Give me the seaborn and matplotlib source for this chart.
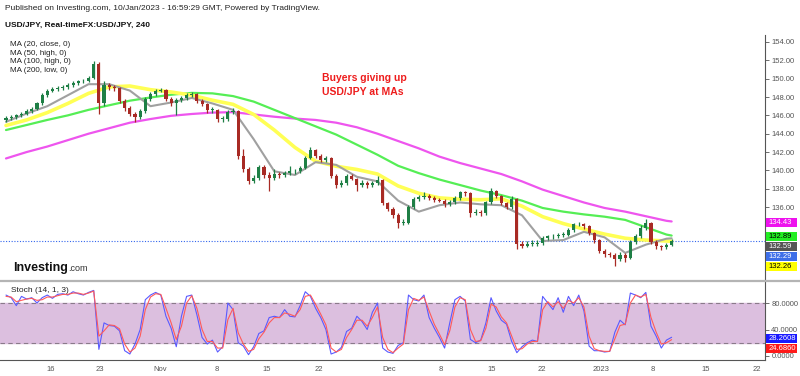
import numpy as np
import pandas as pd
import seaborn as sns
import matplotlib
matplotlib.use("Agg")
import matplotlib.pyplot as plt
from matplotlib.patches import Rectangle
from matplotlib.lines import Line2D

# ---------------- data (12h bars, USD/JPY) ----------------
first_open = 145.5
closes = [145.7, 145.8, 146.0, 146.1, 146.5, 146.7, 147.3, 148.2, 148.7, 148.9,
          149.0, 149.1, 149.3, 149.5, 149.7, 149.8, 150.1, 151.6, 147.3, 149.3,
          149.1, 149.0, 147.6, 146.8, 146.2, 145.8, 146.5, 147.8, 148.3, 148.7,
          148.8, 147.8, 147.3, 147.7, 147.9, 148.2, 148.3, 147.6, 147.2, 146.6,
          146.6, 145.6, 145.6, 146.4, 146.5, 141.6, 140.2, 138.8, 139.2, 140.4,
          139.5, 139.2, 139.6, 139.5, 139.7, 139.9, 139.9, 140.3, 141.4, 142.2,
          141.6, 141.1, 141.4, 139.4, 138.4, 138.6, 139.4, 139.1, 138.4, 138.6,
          138.4, 138.6, 139.0, 136.4, 135.8, 135.1, 134.3, 134.3, 136.0, 136.9,
          137.1, 137.2, 137.0, 136.8, 136.7, 136.3, 136.5, 137.0, 137.6, 137.5,
          135.3, 135.5, 135.3, 136.5, 137.8, 137.2, 136.4, 136.0, 136.9, 132.0,
          131.8, 132.0, 132.0, 132.1, 132.6, 132.8, 132.8, 133.0, 133.0, 133.5,
          134.1, 134.2, 133.9, 133.2, 132.4, 131.2, 130.9, 130.8, 130.3, 130.8,
          130.4, 132.2, 132.8, 133.7, 134.3, 132.2, 131.7, 131.6, 131.9, 132.29]
highs = [145.9, 146.0, 146.2, 146.4, 146.7, 146.9, 147.5, 148.4, 148.9, 149.1,
         149.2, 149.3, 149.5, 149.7, 149.9, 150.0, 150.3, 151.9, 151.8, 149.7,
         149.5, 149.3, 149.1, 147.8, 147.0, 146.4, 146.7, 148.0, 148.6, 148.9,
         149.0, 148.9, 148.0, 147.9, 148.1, 148.4, 148.5, 148.4, 147.8, 147.3,
         146.9, 146.7, 145.9, 146.6, 146.8, 146.6, 142.3, 140.4, 139.5, 140.6,
         140.6, 139.8, 140.1, 139.8, 139.9, 140.5, 140.1, 140.5, 141.6, 142.5,
         142.3, 141.8, 141.6, 141.5, 139.6, 138.9, 139.6, 139.6, 139.2, 138.9,
         138.8, 138.8, 139.4, 139.1, 136.6, 136.0, 135.3, 134.7, 136.2, 137.1,
         137.3, 137.6, 137.4, 137.2, 137.0, 136.9, 136.8, 137.2, 137.8, 137.8,
         137.6, 135.8, 135.7, 136.7, 138.1, 137.9, 137.3, 136.6, 137.2, 137.0,
         132.3, 132.3, 132.4, 132.4, 132.8, 133.0, 133.1, 133.2, 133.3, 133.7,
         134.3, 134.4, 134.3, 134.0, 133.3, 132.5, 131.4, 131.1, 131.0, 131.1,
         131.0, 132.4, 133.1, 134.0, 134.7, 134.4, 132.4, 131.9, 132.1, 132.5]
lows = [145.3, 145.5, 145.6, 145.8, 146.0, 146.3, 146.6, 147.1, 148.0, 148.5,
        148.7, 148.8, 148.9, 149.1, 149.3, 149.5, 149.6, 150.0, 146.2, 147.0,
        148.8, 148.7, 147.4, 146.5, 145.9, 145.3, 145.6, 146.3, 147.6, 148.1,
        148.5, 147.6, 147.0, 146.0, 147.5, 147.7, 148.0, 147.4, 147.0, 146.3,
        146.3, 145.3, 145.3, 145.4, 146.2, 141.2, 139.8, 138.5, 138.6, 139.0,
        139.2, 137.7, 139.0, 139.2, 139.3, 139.5, 139.6, 139.7, 140.1, 141.2,
        141.4, 140.9, 140.9, 139.2, 138.1, 138.2, 138.4, 138.9, 137.8, 138.2,
        138.1, 138.2, 138.4, 136.2, 135.6, 134.8, 133.7, 134.0, 134.1, 135.8,
        136.7, 136.9, 136.8, 136.6, 136.5, 136.0, 136.1, 136.3, 136.8, 137.2,
        134.9, 135.1, 135.0, 135.1, 136.3, 137.0, 136.2, 135.8, 135.8, 131.4,
        131.5, 131.6, 131.7, 131.8, 131.9, 132.4, 132.5, 132.6, 132.7, 132.8,
        133.3, 133.9, 133.6, 133.0, 132.1, 131.0, 130.6, 130.5, 129.6, 130.1,
        130.0, 130.3, 132.0, 132.6, 133.5, 132.0, 131.4, 131.3, 131.4, 131.8]

ma_bars = list(range(0, 129, 4)) + [129]
ma20 = [145.3, 146.2, 147.0, 148.2, 149.4, 149.4, 148.7, 147.0, 147.4, 147.9,
        147.3, 146.6, 143.4, 139.9, 139.5, 140.9, 140.6, 139.3, 138.8, 136.7,
        135.5, 136.2, 136.5, 136.3, 136.2, 135.1, 132.3, 132.4, 133.3, 132.7,
        131.0, 131.9, 132.55, 132.59]
ma50 = [144.9, 145.5, 146.3, 147.3, 148.4, 149.1, 149.2, 148.8, 148.55, 148.2,
        147.65, 147.2, 146.1, 144.4, 142.5, 141.0, 140.45, 140.1, 139.6, 138.3,
        137.5, 137.0, 136.85, 136.8, 136.9, 136.1, 134.95, 134.2, 133.6, 133.05,
        132.6, 132.4, 132.3, 132.26]
ma100 = [144.4, 144.95, 145.5, 146.0, 146.6, 147.1, 147.6, 147.95, 148.25, 148.45,
         148.4, 148.1, 147.5, 146.6, 145.7, 144.8, 143.9, 142.8, 141.7, 140.5,
         139.7, 139.0, 138.4, 137.8, 137.3, 136.7, 135.9, 135.5, 135.2, 134.95,
         134.6, 133.8, 133.0, 132.89]
ma200 = [141.3, 142.0, 142.6, 143.3, 144.0, 144.6, 145.2, 145.6, 145.95, 146.15,
         146.3, 146.35, 146.1, 145.85, 145.65, 145.5, 145.2, 144.7, 144.0, 143.2,
         142.4, 141.5, 140.8, 140.2, 139.6, 138.8, 137.9, 137.2, 136.5, 135.9,
         135.5, 135.0, 134.5, 134.43]

stoch_k = [92, 88, 76, 90, 86, 88, 80, 88, 92, 87,
           93, 94, 92, 97, 94, 92, 96, 99, 10, 50,
           46, 45, 38, 8, 3, 18, 40, 85, 92, 96,
           92, 60, 42, 14, 60, 90, 92, 62, 28, 18,
           24, 6, 14, 80, 70, 20, 15, 2, 14, 34,
           38, 58, 60, 58, 70, 60, 59, 76, 97, 90,
           72, 58, 40, 3, 6, 13, 37, 42, 60, 52,
           40, 66, 80, 12, 6, 4, 16, 20, 92, 85,
           83, 92, 58, 42, 28, 12, 50, 85, 90, 83,
           25, 20, 24, 50, 88, 68, 54, 48, 22, 5,
           14, 20, 24, 22, 90, 80, 70, 88, 66, 90,
           76, 92, 68, 15, 8, 8, 6, 7, 36, 54,
           47, 95, 92, 88, 96, 45, 30, 12, 24, 28.2608]
stoch_d = [90, 89, 82, 84, 86, 87, 84, 85, 89, 89,
           91, 93, 93, 95, 95, 93, 95, 98, 30, 38,
           47, 46, 41, 18, 6, 12, 30, 70, 89, 94,
           93, 72, 50, 25, 45, 80, 91, 72, 40, 22,
           22, 12, 12, 55, 72, 35, 18, 7, 10, 26,
           36, 50, 58, 58, 65, 63, 60, 70, 90, 92,
           78, 63, 47, 12, 6, 10, 28, 40, 54, 54,
           45, 58, 74, 28, 10, 5, 12, 18, 70, 87,
           84, 89, 68, 48, 33, 17, 38, 74, 88, 85,
           40, 22, 23, 42, 78, 74, 59, 50, 30, 10,
           11, 18, 22, 22, 70, 82, 74, 82, 72, 84,
           80, 88, 74, 30, 11, 8, 7, 7, 26, 46,
           48, 80, 92, 89, 93, 58, 36, 18, 20, 24.686]

xtick_labels = ["16", "23", "Nov", "8", "15", "22", "Dec", "8", "15", "22", "2023", "8", "15", "22"]
xtick_bars = [8.7, 18.1, 29.8, 40.9, 50.6, 60.7, 74.2, 84.3, 94.2, 103.9, 115.3, 125.4, 135.6, 145.5]
price_ticks = [136, 138, 140, 142, 144, 146, 148, 150, 152, 154]
stoch_ticks = [0, 40, 80]
last_price = closes[-1]

# ---------------- styling / layout ----------------
sns.set_theme(style="white")
plt.rcParams['font.family'] = ['Liberation Sans', 'DejaVu Sans']

W, H = 800, 376
fig = plt.figure(figsize=(8, 3.76), dpi=100)
fig.patch.set_facecolor("white")


def fx(p):
    return p / W


def fy(p):
    return 1 - p / H


BAR0_PX, BAR_PX = 6.0, 5.16
PRICE_Y0, PRICE_AT_Y0, PX_PER_YEN = 42.0, 154.0, 9.17
ST_Y0, ST_PX = 356.0, 0.6625


def bar_at(px):
    return (px - BAR0_PX) / BAR_PX


def price_at(py):
    return PRICE_AT_Y0 - (py - PRICE_Y0) / PX_PER_YEN


def st_at(py):
    return (ST_Y0 - py) / ST_PX


LEFT, RIGHT = 0, 765
ax = fig.add_axes([fx(LEFT), fy(281), fx(RIGHT) - fx(LEFT), fy(35) - fy(281)])
ax2 = fig.add_axes([fx(LEFT), fy(360), fx(RIGHT) - fx(LEFT), fy(282) - fy(360)])
for a in (ax, ax2):
    a.set_facecolor("white")
    a.set_xlim(bar_at(LEFT), bar_at(RIGHT))
ax.set_ylim(price_at(281), price_at(35))
ax2.set_ylim(st_at(360), st_at(282))

# ---- moving averages (seaborn) ----
ma_df = pd.DataFrame({"bar": ma_bars, "ma20": ma20, "ma50": ma50,
                      "ma100": ma100, "ma200": ma200})
for col, color, lw in [("ma200", "#ee55ee", 1.6), ("ma100", "#55ee55", 1.6),
                       ("ma50", "#ffff55", 2.6), ("ma20", "#a0a0a0", 1.5)]:
    sns.lineplot(data=ma_df, x="bar", y=col, color=color, linewidth=lw, ax=ax, zorder=2)

# ---- candles ----
c = np.array(closes)
o = np.array([first_open] + closes[:-1])
bars = np.arange(len(c))
up = c >= o
cols = np.where(up, "#1e7f45", "#a82a24")
ax.vlines(bars, lows, highs, colors=cols, linewidth=0.9, zorder=3)
body = np.maximum(np.abs(c - o), 0.08)
ax.bar(bars, body, bottom=np.minimum(o, c), width=0.6, color=cols, linewidth=0, zorder=4)

ax.axhline(last_price, color="#3366ee", linestyle=(0, (1, 1.5)), linewidth=0.8, zorder=1)

# ---- stochastic (seaborn) ----
st_df = pd.DataFrame({"bar": bars, "k": stoch_k, "d": stoch_d})
ax2.axhspan(20, 80, color="#dcbfdf", zorder=0)
for lvl in (20, 80):
    ax2.axhline(lvl, color="#8a7a8a", linestyle=(0, (4, 3)), linewidth=0.8, zorder=1)
sns.lineplot(data=st_df, x="bar", y="k", color="#5a5aff", linewidth=0.8, ax=ax2, zorder=2)
sns.lineplot(data=st_df, x="bar", y="d", color="#ff5a5a", linewidth=0.8, ax=ax2, zorder=3)

# ---- axes cosmetics ----
for a in (ax, ax2):
    a.set_xlabel("")
    a.set_ylabel("")
    for s in a.spines.values():
        s.set_visible(False)
    a.spines["right"].set_visible(True)
    a.spines["right"].set_color("#555555")
    a.spines["right"].set_linewidth(0.8)
    a.yaxis.tick_right()
ax2.spines["bottom"].set_visible(True)
ax2.spines["bottom"].set_color("#555555")
ax2.spines["bottom"].set_linewidth(0.8)

ax.set_xticks([])
ax.set_yticks(price_ticks)
ax.set_yticklabels([f"{v:.2f}" for v in price_ticks])
ax.tick_params(axis="y", right=True, left=False, length=3, width=0.6, colors="#555555",
               labelsize=5.5, pad=1.5)
ax2.set_yticks(stoch_ticks)
ax2.set_yticklabels([f"{v:.4f}" for v in stoch_ticks])
ax2.tick_params(axis="y", right=True, left=False, length=3, width=0.6, colors="#555555",
                labelsize=5.5, pad=1.5)
ax2.set_xticks(xtick_bars)
ax2.set_xticklabels(xtick_labels)
ax2.tick_params(axis="x", bottom=True, length=0, colors="#555555", labelsize=5.5, pad=4)

# separator between panels
fig.add_artist(Line2D([0, 1], [fy(281), fy(281)], transform=fig.transFigure,
                      color="#b4b4b4", linewidth=1.6))


# ---- value tags on the right scale ----
def tag(yc, text, fc, tc):
    fig.add_artist(Rectangle((fx(766), fy(yc + 4.5)), fx(31), 9 / H,
                             transform=fig.transFigure, facecolor=fc,
                             edgecolor="none", zorder=10))
    fig.text(fx(768.5), fy(yc), text, fontsize=5.5, color=tc, va="center",
             ha="left", zorder=11)


tag(223.0, f"{ma200[-1]:.2f}", "#ee11ee", "white")
tag(236.5, f"{ma100[-1]:.2f}", "#22ee22", "black")
tag(246.5, f"{ma20[-1]:.2f}", "#555555", "white")
tag(256.3, f"{last_price:.2f}", "#3d6ee8", "white")
tag(266.0, f"{ma50[-1]:.2f}", "#ffff00", "black")
tag(338.5, f"{stoch_k[-1]:.4f}", "#1a1aff", "white")
tag(348.3, f"{stoch_d[-1]:.4f}", "#ff1a1a", "white")

# ---- texts ----
fig.text(fx(5), fy(9), "Published on Investing.com, 10/Jan/2023 - 16:59:29 GMT, Powered by TradingView.",
         fontsize=6, color="#222222", va="center", ha="left")
fig.text(fx(5), fy(25), "USD/JPY, Real-timeFX:USD/JPY, 240", fontsize=6,
         fontweight="bold", color="#111111", va="center", ha="left")
for i, s in enumerate(["MA (20, close, 0)", "MA (50, high, 0)", "MA (100, high, 0)", "MA (200, low, 0)"]):
    fig.text(fx(10), fy(45 + 8.4 * i), s, fontsize=5.8, color="#222222", va="center", ha="left")

fig.text(fx(322), fy(77.7), "Buyers giving up", fontsize=7.5, fontweight="bold",
         color="#ee1c1c", va="center", ha="left")
fig.text(fx(322), fy(92.3), "USD/JPY at MAs", fontsize=7.5, fontweight="bold",
         color="#ee1c1c", va="center", ha="left")

t1 = fig.text(fx(13), fy(271), "Investing", fontsize=9, fontweight="bold",
              color="#111111", va="baseline", ha="left")
fig.canvas.draw()
bb = t1.get_window_extent()
fig.text(bb.x1 / fig.bbox.width, fy(271), ".com", fontsize=6.5, color="#333333",
         va="baseline", ha="left")

fig.text(fx(11), fy(291), "Stoch (14, 1, 3)", fontsize=6, color="#222222", va="center", ha="left")

fig.savefig("out.png", dpi=100, facecolor="white")
